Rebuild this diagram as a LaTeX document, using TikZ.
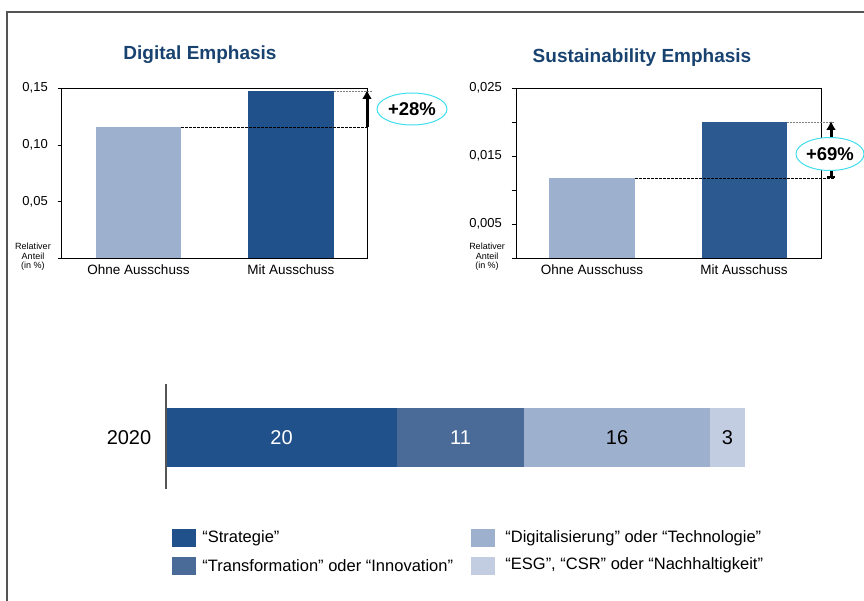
\documentclass[tikz,border=0pt]{standalone}
\usepackage{fontspec}
\setmainfont{Liberation Sans}
\usepackage{xcolor}
\usetikzlibrary{shapes.geometric, arrows.meta, positioning, calc}
\definecolor{framegray}{RGB}{85,85,85}
\definecolor{titleblue}{RGB}{24,66,112}
\definecolor{bardark}{RGB}{33,81,138}
\definecolor{barmid}{RGB}{74,106,152}
\definecolor{barlight}{RGB}{157,176,206}
\definecolor{barpale}{RGB}{194,205,225}
\definecolor{ringcyan}{RGB}{64,222,236}

\tikzset{
  charttitle/.style={font=\bfseries\fontsize{19}{22}\selectfont, text=titleblue},
  ticklabel/.style={anchor=east, inner sep=0pt, font=\fontsize{13}{15}\selectfont},
  catlabel/.style={inner sep=0pt, font=\fontsize{13.5}{16}\selectfont},
  unitlabel/.style={align=center, inner sep=0pt, font=\fontsize{9}{9.5}\selectfont},
  growth/.style={ellipse, draw=ringcyan, fill=white, line width=1pt, minimum width=70pt,
    minimum height=32pt, inner sep=0pt, font=\bfseries\fontsize{18.5}{20}\selectfont},
  basedash/.style={black, line width=0.7pt, dash pattern=on 2.5pt off 1.5pt},
  topdots/.style={gray, line width=0.8pt, dash pattern=on 1.5pt off 1.5pt},
  risearrow/.style={line width=3pt, -{Latex[length=9pt,width=10pt]}},
  segnum/.style={font=\fontsize{20}{22}\selectfont},
  keybox/.style={minimum width=24pt, minimum height=18pt, inner sep=0pt},
  keytext/.style={inner sep=0pt, anchor=west, font=\fontsize{16.5}{18}\selectfont}
}

\begin{document}
\begin{tikzpicture}[x=1pt,y=-1pt]
\useasboundingbox (0,0) rectangle (864,601);
% frame
\draw[framegray, line width=1.6pt] (7,601) -- (7,12) -- (864,12);

% Digital Emphasis
\node[charttitle] (dtitle) at (200,55) {Digital Emphasis};
\fill[barlight] (96,258) rectangle (181,127);
\fill[bardark] (248,258) rectangle (334,91);
\draw[line width=0.9pt] (61,88) rectangle (367,258);
\foreach \y/\lab in {88/{0,15},145/{0,10},201.5/{0,05}} {
  \draw[line width=0.8pt] (57.5,\y) -- (61,\y);
  \node[ticklabel] at (48,\y) {\lab};
}
\draw[line width=0.8pt] (57.5,258) -- (61,258);
\node[unitlabel] (dunit) at (33,257) {Relativer\\Anteil\\(in \%)};
\node[catlabel] (dohne) at (138.5,270) {Ohne Ausschuss};
\node[catlabel] (dmit) at (291,270) {Mit Ausschuss};
\coordinate (dlow) at (367,127);
\coordinate (dhigh) at (367,90);
\draw[basedash] (181,127) -- (dlow);
\draw[topdots] (334,91) -- (372,91);
\draw[risearrow] (dlow) -- (dhigh);
\node[growth] (dgain) at (412,109) {+28\%};

% Sustainability Emphasis
\node[charttitle] (stitle) at (642,58) {Sustainability Emphasis};
\fill[barlight] (549,258) rectangle (635,178);
\fill[bardark!95!white] (702,258) rectangle (787,122);
\draw[line width=0.9pt] (516,88) rectangle (821,258);
\foreach \y/\lab in {88/{0,025},156/{0,015},224/{0,005}} {
  \draw[line width=0.8pt] (511.5,\y) -- (516,\y);
  \node[ticklabel] at (502,\y) {\lab};
}
\foreach \y in {122,190,258}
  \draw[line width=0.8pt] (511.5,\y) -- (516,\y);
\node[unitlabel] (sunit) at (487,257) {Relativer\\Anteil\\(in \%)};
\node[catlabel] (sohne) at (592,270) {Ohne Ausschuss};
\node[catlabel] (smit) at (744,270) {Mit Ausschuss};
\coordinate (slow) at (831,178);
\coordinate (shigh) at (831,121);
\draw[basedash] (635,178) -- (835,178);
\draw[topdots] (787,122) -- (835,122);
\draw[risearrow] (slow) -- (shigh);
\draw[line width=1.5pt] (827,177) -- (835,177);
\node[growth, minimum width=68pt, minimum height=33pt] (sgain) at (830,154) {+69\%};

% 2020 stacked bar
\fill[bardark] (166,408) rectangle (397,467);
\fill[barmid] (397,408) rectangle (524,467);
\fill[barlight] (524,408) rectangle (710,467);
\fill[barpale] (710,408) rectangle (745,467);
\node[segnum, white] (n20) at (281.5,438) {20};
\node[segnum, white] (n11) at (460.5,438) {11};
\node[segnum] (n16) at (617,438) {16};
\node[segnum] (n3) at (727.5,438) {3};
\node[segnum] (year) at (129,438) {2020};
\draw[framegray, line width=1.5pt] (166,384) -- (166,489);

% legend
\node[keybox, fill=bardark] (key1) at (184,538) {};
\node[keytext, right=6pt of key1] {“Strategie”};
\node[keybox, fill=barmid] (key2) at (184,565.5) {};
\node[keytext, right=6pt of key2] {“Transformation” oder “Innovation”};
\node[keybox, fill=barlight] (key3) at (483,538) {};
\node[keytext, right=10pt of key3] {“Digitalisierung” oder “Technologie”};
\node[keybox, fill=barpale] (key4) at (483,565.5) {};
\node[keytext, right=10pt of key4] {“ESG”, “CSR” oder “Nachhaltigkeit”};
\end{tikzpicture}
\end{document}
